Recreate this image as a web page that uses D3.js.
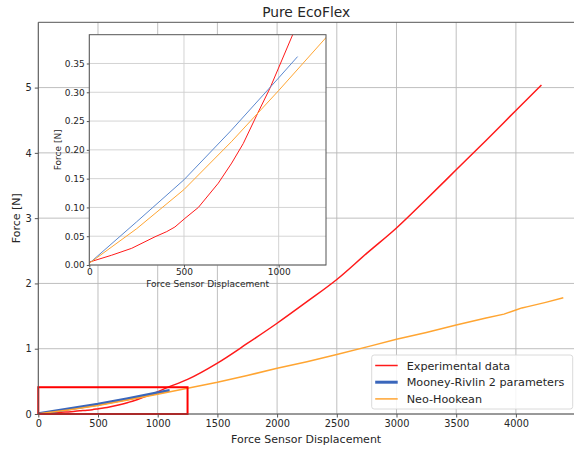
<!DOCTYPE html>
<html><head><meta charset="utf-8">
<script src="https://cdn.jsdelivr.net/npm/d3@7"></script>
<style>
html,body{margin:0;padding:0;background:#fff;}
svg{display:block;font-family:"DejaVu Sans",sans-serif;}
</style></head>
<body>
<svg id="c" width="574" height="450"></svg>
<script>
// ---- data ----
const redX = [0,118,224,347,409,452,505,576,681,752,813,884,954,1074,1250,1500,1750,2000,2250,2500,2750,3000,3250,3500,3750,4000,4214];
const redY = [0.005,0.017,0.029,0.049,0.058,0.066,0.081,0.100,0.142,0.177,0.211,0.26,0.307,0.40,0.53,0.78,1.08,1.39,1.72,2.06,2.46,2.85,3.29,3.74,4.19,4.65,5.04];
const blueX = [0,250,500,750,1000,1100];
const blueY = [0.003,0.075,0.148,0.234,0.325,0.362];
const orangeX = [0,250,500,750,1000,1250,1500,1750,2000,2250,2500,2778,3000,3250,3500,3750,3900,4000,4050,4100,4250,4397];
const orangeY = [0.003,0.063,0.131,0.214,0.303,0.395,0.485,0.59,0.70,0.80,0.91,1.04,1.145,1.25,1.363,1.47,1.53,1.593,1.625,1.645,1.71,1.78];
const seriesNames = ["Experimental data","Mooney-Rivlin 2 parameters","Neo-Hookean"];
const mainXTicks = [0,500,1000,1500,2000,2500,3000,3500,4000];
const mainYTicks = [0,1,2,3,4,5];
const insetXTicks = [0,500,1000];
const insetYTicks = [0,0.05,0.10,0.15,0.20,0.25,0.30,0.35];
const zoomBox = {x0:0, x1:1250, y0:0, y1:0.41};
const titleText = "Pure EcoFlex";
const xLabel = "Force Sensor Displacement";
const yLabel = "Force [N]";

const RED="#ff1a1a", BLUE="#3a66bb", BLUE_IN="#5b88cf", ORANGE="#ffa532";
const zip=(xs,ys)=>xs.map((x,i)=>[x,ys[i]]);
const red=zip(redX,redY), blue=zip(blueX,blueY), orange=zip(orangeX,orangeY);

const svg=d3.select("#c");
const SP="#555";

// ---- main axes ----
const M={l:38.3,r:575,t:22.3,b:414};
const x=d3.scaleLinear().domain([0,4495]).range([M.l,M.r]);
const y=d3.scaleLinear().domain([0,6.0]).range([M.b,M.t]);

const defs=svg.append("defs");
defs.append("clipPath").attr("id","mclip").append("rect")
  .attr("x",M.l).attr("y",M.t).attr("width",M.r-M.l).attr("height",M.b-M.t);

const g=svg.append("g");
// grid
g.append("g").selectAll("line").data(mainXTicks).join("line")
  .attr("x1",d=>x(d)).attr("x2",d=>x(d)).attr("y1",M.t).attr("y2",M.b)
  .attr("stroke","#b8b8b8").attr("stroke-width",0.9);
g.append("g").selectAll("line").data(mainYTicks).join("line")
  .attr("x1",M.l).attr("x2",M.r).attr("y1",d=>y(d)).attr("y2",d=>y(d))
  .attr("stroke","#b8b8b8").attr("stroke-width",0.9);

const line=d3.line().x(d=>x(d[0])).y(d=>y(d[1]));
const lineSmooth=d3.line().curve(d3.curveMonotoneX).x(d=>x(d[0])).y(d=>y(d[1]));
const pg=g.append("g").attr("clip-path","url(#mclip)");
pg.append("path").datum(red).attr("d",lineSmooth).attr("fill","none").attr("stroke",RED).attr("stroke-width",1.5);
pg.append("path").datum(blue).attr("d",line).attr("fill","none").attr("stroke",BLUE).attr("stroke-width",3);
pg.append("path").datum(orange).attr("d",line).attr("fill","none").attr("stroke",ORANGE).attr("stroke-width",1.5);

// zoom rectangle
g.append("rect").attr("x",x(zoomBox.x0)).attr("y",y(zoomBox.y1))
  .attr("width",x(zoomBox.x1)-x(zoomBox.x0)).attr("height",y(zoomBox.y0)-y(zoomBox.y1))
  .attr("fill","none").attr("stroke","#ff0000").attr("stroke-width",2);

// axes
const xa=g.append("g").attr("transform",`translate(0,${M.b})`)
  .call(d3.axisBottom(x).tickValues(mainXTicks).tickSize(3.5).tickPadding(3).tickFormat(d3.format("d")));
const ya=g.append("g").attr("transform",`translate(${M.l},0)`)
  .call(d3.axisLeft(y).tickValues(mainYTicks).tickSize(3.5).tickPadding(3).tickFormat(d3.format("d")));
[xa,ya].forEach(a=>{a.select(".domain").remove();a.selectAll("line").attr("stroke",SP);
  a.selectAll("text").attr("font-size",9.8).attr("fill","#262626").attr("font-family","DejaVu Sans");});
// spines
g.append("line").attr("x1",M.l).attr("x2",M.r).attr("y1",M.b).attr("y2",M.b).attr("stroke",SP);
g.append("line").attr("x1",M.l).attr("x2",M.r).attr("y1",M.t).attr("y2",M.t).attr("stroke",SP);
g.append("line").attr("x1",M.l).attr("x2",M.l).attr("y1",M.t).attr("y2",M.b).attr("stroke",SP);

// labels
svg.append("text").attr("x",(M.l+574)/2).attr("y",17).attr("text-anchor","middle")
  .attr("font-size",13.8).attr("fill","#262626").text(titleText);
svg.append("text").attr("x",(M.l+574)/2).attr("y",443).attr("text-anchor","middle")
  .attr("font-size",11).attr("fill","#262626").text(xLabel);
svg.append("text").attr("transform",`translate(20,${(M.t+M.b)/2}) rotate(-90)`).attr("text-anchor","middle")
  .attr("font-size",11).attr("fill","#262626").text(yLabel);

// legend
const L={x:371.7,y:355,w:201,h:54};
const lg=svg.append("g");
lg.append("rect").attr("x",L.x).attr("y",L.y).attr("width",L.w).attr("height",L.h).attr("rx",2.5)
  .attr("fill","#fff").attr("fill-opacity",0.85).attr("stroke","#d0d0d0").attr("stroke-width",0.8);
const legColors=[RED,BLUE,ORANGE], legW=[1.5,3,1.5];
seriesNames.forEach((n,i)=>{
  const yy=L.y+10.5+i*16.7;
  lg.append("line").attr("x1",L.x+3.5).attr("x2",L.x+26).attr("y1",yy).attr("y2",yy)
    .attr("stroke",legColors[i]).attr("stroke-width",legW[i]);
  lg.append("text").attr("x",L.x+35).attr("y",yy+4).attr("font-size",11.2).attr("fill","#262626").text(n);
});

// ---- inset ----
const I={l:89.3,r:326,t:34.7,b:265};
const xi=d3.scaleLinear().domain([0,1250]).range([I.l,I.r]);
const yi=d3.scaleLinear().domain([0,0.40]).range([I.b,I.t]);
defs.append("clipPath").attr("id","iclip").append("rect")
  .attr("x",I.l).attr("y",I.t).attr("width",I.r-I.l).attr("height",I.b-I.t);
const ig=svg.append("g");
ig.append("rect").attr("x",I.l).attr("y",I.t).attr("width",I.r-I.l).attr("height",I.b-I.t).attr("fill","#fff");
ig.append("g").selectAll("line").data(insetXTicks).join("line")
  .attr("x1",d=>xi(d)).attr("x2",d=>xi(d)).attr("y1",I.t).attr("y2",I.b)
  .attr("stroke","#cfcfcf").attr("stroke-width",0.9);
ig.append("g").selectAll("line").data(insetYTicks).join("line")
  .attr("x1",I.l).attr("x2",I.r).attr("y1",d=>yi(d)).attr("y2",d=>yi(d))
  .attr("stroke","#cfcfcf").attr("stroke-width",0.9);
const iline=d3.line().x(d=>xi(d[0])).y(d=>yi(d[1]));
const ipg=ig.append("g").attr("clip-path","url(#iclip)");
ipg.append("path").datum(red).attr("d",iline).attr("fill","none").attr("stroke",RED).attr("stroke-width",1);
ipg.append("path").datum(blue).attr("d",iline).attr("fill","none").attr("stroke",BLUE_IN).attr("stroke-width",1);
ipg.append("path").datum(orange).attr("d",iline).attr("fill","none").attr("stroke",ORANGE).attr("stroke-width",1);
const ixa=ig.append("g").attr("transform",`translate(0,${I.b})`)
  .call(d3.axisBottom(xi).tickValues(insetXTicks).tickSize(2.5).tickPadding(1.5).tickFormat(d3.format("d")));
const iya=ig.append("g").attr("transform",`translate(${I.l},0)`)
  .call(d3.axisLeft(yi).tickValues(insetYTicks).tickSize(2.5).tickPadding(2).tickFormat(d3.format(".2f")));
[ixa,iya].forEach(a=>{a.select(".domain").remove();a.selectAll("line").attr("stroke",SP);
  a.selectAll("text").attr("font-size",9).attr("fill","#262626").attr("font-family","DejaVu Sans");});
ig.append("rect").attr("x",I.l).attr("y",I.t).attr("width",I.r-I.l).attr("height",I.b-I.t)
  .attr("fill","none").attr("stroke",SP).attr("stroke-width",1);
ig.append("text").attr("x",(I.l+I.r)/2).attr("y",287).attr("text-anchor","middle")
  .attr("font-size",9).attr("fill","#262626").text(xLabel);
ig.append("text").attr("transform",`translate(61,${(I.t+I.b)/2}) rotate(-90)`).attr("text-anchor","middle")
  .attr("font-size",9).attr("fill","#262626").text(yLabel);
</script>
</body></html>
